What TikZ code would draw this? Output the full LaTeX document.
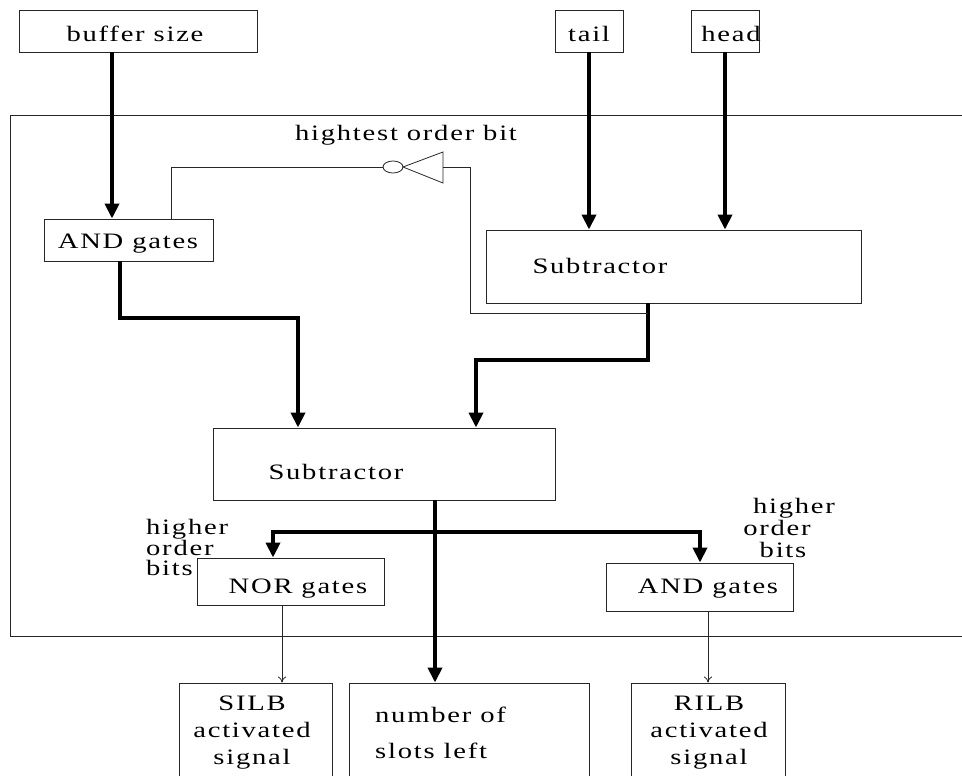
\documentclass[tikz,border=0pt]{standalone}
\usepackage{fontspec}
\setmainfont{Liberation Serif}[FakeStretch=1.3,LetterSpace=8]
\usetikzlibrary{arrows.meta,shapes.geometric}
\begin{document}
\begin{tikzpicture}[x=1pt,y=-1pt,
  box/.style={draw=black!85,line width=0.9pt,inner sep=0pt},
  lbl/.style={inner sep=0pt,font=\fontsize{22}{20}\selectfont},
  bus/.style={line width=4.5pt},
  busarrow/.style={bus,-{Triangle[width=14pt,length=15pt]}},
  wire/.style={draw=black!85,line width=0.8pt},
  wirearrow/.style={wire,-{To[length=6pt,width=8pt]}},
]
\useasboundingbox (0,0) rectangle (962,776);
\fill[white] (0,0) rectangle (962,776);

% outer frame of the unit
\draw[box] (10,115) rectangle (975,636);

% inputs
\node[box,minimum width=238pt,minimum height=42pt] (buffer) at (138,31) {};
\node[lbl] (buffert) at (135,34) {buffer size};
\node[box,minimum width=68pt,minimum height=42pt] (tail) at (589,31) {};
\node[lbl] (tailt) at (589,34) {tail};
\node[box,minimum width=68pt,minimum height=42pt] (head) at (725,31) {};
\node[lbl] (headt) at (731,34) {head};

% inner blocks
\node[box,minimum width=169pt,minimum height=42pt] (and1) at (128.5,240) {};
\node[lbl] (and1t) at (128,244) {AND gates};
\node[box,minimum width=375pt,minimum height=73pt] (sub1) at (673.5,266.5) {};
\node[lbl] (sub1t) at (600,266) {Subtractor};
\node[box,minimum width=342pt,minimum height=72pt] (sub2) at (384,464) {};
\node[lbl] (sub2t) at (336,472) {Subtractor};
\node[box,minimum width=187pt,minimum height=47pt] (nor) at (290.5,581.5) {};
\node[lbl] (nort) at (298,589) {NOR gates};
\node[box,minimum width=187pt,minimum height=48pt] (and2) at (699.5,587) {};
\node[lbl] (and2t) at (708,589) {AND gates};

% outputs
\node[box,minimum width=153pt,minimum height=114pt] (silb) at (255.5,740) {};
\node[lbl,align=center,font=\fontsize{22}{27}\selectfont] (silbt) at (252,733) {SILB\\activated\\signal};
\node[box,minimum width=240pt,minimum height=114pt] (slots) at (469,740) {};
\node[lbl,align=left,anchor=west,font=\fontsize{22}{36}\selectfont] (slotst) at (375,733) {number of\\slots left};
\node[box,minimum width=154pt,minimum height=114pt] (rilb) at (708,740) {};
\node[lbl,align=center,font=\fontsize{22}{27}\selectfont] (rilbt) at (709,733) {RILB\\activated\\signal};

% labels
\node[lbl] (hob) at (406,135) {hightest order bit};
\node[lbl,align=left,anchor=west] (hobl) at (146,547) {higher\\order\\bits};
\node[lbl] (hobr1) at (794,508) {higher};
\node[lbl] (hobr2) at (777,528) {order};
\node[lbl] (hobr3) at (783,550) {bits};

% inverter on the highest order bit
\coordinate (invbase) at (443,167);
\coordinate (invtip) at (403,167);
\draw[wire] (443,152) -- (443,183) -- (invtip) -- cycle;
\node[wire,draw,ellipse,minimum width=20pt,minimum height=12pt,inner sep=0pt] (bubble) at (393,167) {};

% thick data paths
\draw[busarrow] (buffer.south -| 112,0) -- (and1.north -| 112,0);
\draw[busarrow] (tail.south) -- (tail.south |- sub1.north);
\draw[busarrow] (head.south) -- (head.south |- sub1.north);
\draw[busarrow] (and1.south -| 120,0) |- (298,318) -- (sub2.north -| 298,0);
\draw[busarrow] (sub1.south -| 648,0) |- (476,360) -- (sub2.north -| 476,0);
\draw[busarrow] (sub2.south -| 435,0) -- (slots.north -| 435,0);
\coordinate (split) at (435,532);
\draw[busarrow] (split) -| (nor.north -| 273,0);
\draw[busarrow] (split) -| (and2.north -| 700,0);

% feedback of the highest order bit
\coordinate (tap) at (648,313);
\draw[wire] (tap) -- (470,313) -- (470,167) -- (invbase);
\draw[wire] (bubble.west) -| (and1.north -| 171,0);

% control outputs
\draw[wirearrow] (nor.south -| 282,0) -- (silb.north -| 282,0);
\draw[wirearrow] (and2.south -| 708,0) -- (rilb.north -| 708,0);
\end{tikzpicture}
\end{document}
